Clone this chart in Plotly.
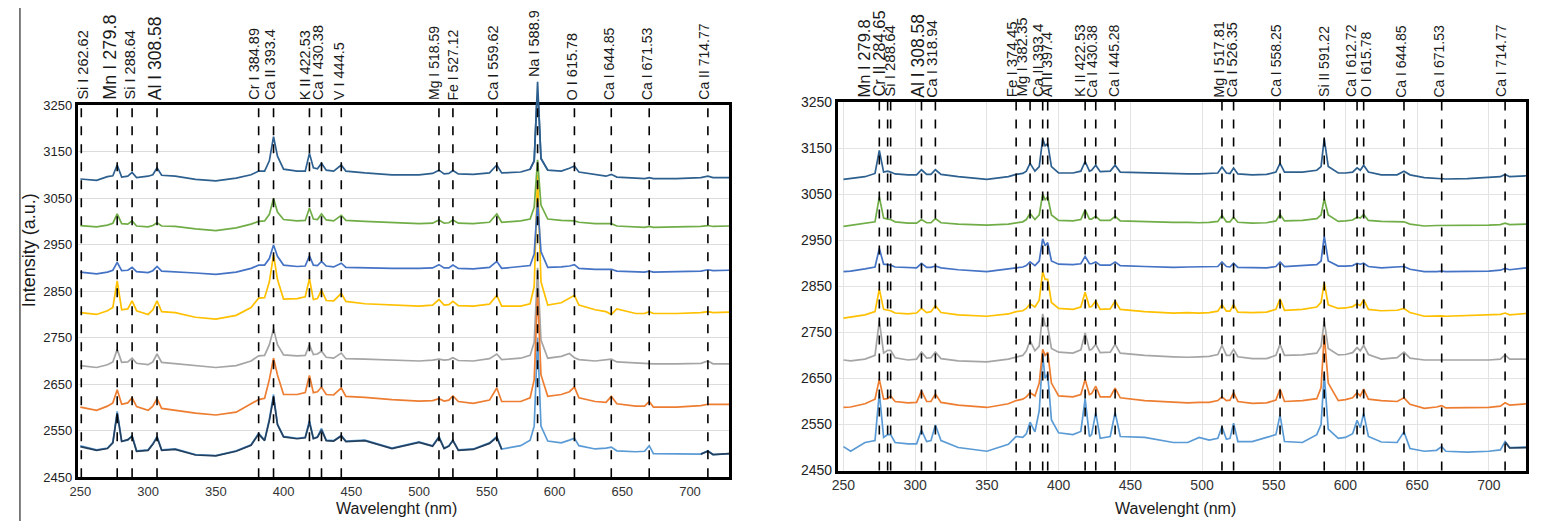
import plotly.graph_objects as go

# ---------------- data: left panel ----------------
L_X = [250, 262, 270, 274, 277.2, 280.5, 285, 288.2, 291.5, 300, 303.5, 306.6, 310, 320, 335, 350, 365, 376,
       381.6, 386, 389.5, 392.6, 395.5, 400, 410, 416, 419.1, 422, 425, 428, 431.5, 437, 442.6, 446, 460, 480,
       500, 510, 514.7, 518.5, 522, 525, 529, 540, 552, 557.4, 561, 575, 582, 585, 587.5, 590, 595, 605, 611,
       614.7, 618, 630, 638, 641.9, 646, 660, 666.5, 669.9, 673, 690, 708, 713.2, 717, 729]

L_S1 = [3091, 3088, 3096, 3098, 3121, 3095, 3097, 3105, 3094, 3097, 3100, 3115, 3099, 3097, 3090, 3087, 3093, 3100,
        3108, 3108, 3130, 3182, 3140, 3112, 3108, 3108, 3146, 3115, 3113, 3125, 3110, 3108, 3121, 3108, 3104, 3100,
        3100, 3103, 3110, 3102, 3103, 3109, 3102, 3101, 3104, 3121, 3104, 3106, 3112, 3130, 3300, 3135, 3110, 3108, 3114,
        3119, 3106, 3100, 3097, 3101, 3095, 3093, 3092, 3094, 3092, 3092, 3094, 3097, 3094, 3094]
L_S2 = [2991, 2988, 2992, 2996, 3016, 2995, 2994, 3001, 2990, 2988, 2991, 2997, 2990, 2989, 2984, 2980, 2986, 2994,
        3000, 3001, 3015, 3049, 3020, 3004, 3001, 3002, 3028, 3005, 3004, 3016, 3003, 3001, 3013, 3002, 3000, 2997,
        2995, 2996, 3003, 2996, 2997, 3003, 2996, 2995, 2998, 3016, 2998, 3001, 3005, 3030, 3132, 3035, 3005, 3002, 3002,
        3001, 2998, 2995, 2995, 2995, 2990, 2987, 2987, 2989, 2987, 2988, 2989, 2991, 2989, 2990]
L_S3 = [2891, 2887, 2891, 2895, 2912, 2894, 2895, 2901, 2892, 2890, 2894, 2903, 2893, 2892, 2889, 2886, 2891, 2899,
        2906, 2906, 2920, 2949, 2925, 2906, 2903, 2904, 2926, 2906, 2905, 2914, 2904, 2902, 2910, 2901, 2900, 2899,
        2899, 2900, 2907, 2900, 2900, 2906, 2899, 2898, 2901, 2914, 2899, 2902, 2905, 2930, 3043, 2935, 2901, 2902, 2904,
        2907, 2899, 2897, 2896, 2897, 2893, 2891, 2891, 2893, 2891, 2892, 2893, 2896, 2894, 2895]
L_S4 = [2804, 2800, 2808, 2815, 2872, 2810, 2812, 2829, 2808, 2800, 2810, 2829, 2806, 2804, 2794, 2790, 2798, 2815,
        2835, 2836, 2870, 2928, 2875, 2833, 2834, 2838, 2877, 2832, 2834, 2852, 2830, 2829, 2845, 2828, 2823, 2820,
        2818, 2820, 2832, 2820, 2821, 2828, 2819, 2818, 2822, 2841, 2818, 2818, 2823, 2860, 3100, 2870, 2820, 2825, 2835,
        2841, 2820, 2810, 2806, 2800, 2812, 2802, 2802, 2806, 2802, 2802, 2804, 2806, 2804, 2805]
L_S5 = [2690, 2686, 2692, 2698, 2725, 2697, 2698, 2706, 2695, 2692, 2698, 2715, 2697, 2694, 2691, 2686, 2690, 2700,
        2711, 2712, 2735, 2769, 2735, 2713, 2711, 2712, 2735, 2714, 2715, 2721, 2708, 2706, 2717, 2705, 2704, 2702,
        2700, 2702, 2704, 2702, 2703, 2707, 2701, 2700, 2705, 2715, 2703, 2706, 2712, 2740, 2900, 2745, 2706, 2710, 2716,
        2707, 2703, 2700, 2702, 2704, 2698, 2696, 2695, 2696, 2694, 2694, 2695, 2700, 2694, 2694]
L_S6 = [2601, 2594, 2603, 2610, 2638, 2607, 2610, 2621, 2602, 2594, 2603, 2619, 2598, 2594, 2588, 2584, 2590, 2608,
        2617, 2620, 2660, 2706, 2670, 2628, 2628, 2632, 2669, 2632, 2634, 2644, 2628, 2627, 2642, 2624, 2622, 2617,
        2614, 2615, 2619, 2614, 2616, 2625, 2613, 2609, 2616, 2642, 2613, 2613, 2621, 2660, 2850, 2670, 2624, 2628, 2634,
        2644, 2621, 2613, 2611, 2624, 2608, 2603, 2603, 2613, 2601, 2601, 2604, 2607, 2607, 2607]
L_S7 = [2518, 2509, 2513, 2525, 2592, 2528, 2530, 2540, 2507, 2509, 2522, 2538, 2509, 2511, 2499, 2497, 2507, 2520,
        2545, 2530, 2575, 2628, 2565, 2538, 2534, 2536, 2572, 2534, 2537, 2555, 2530, 2529, 2540, 2528, 2530, 2513,
        2526, 2518, 2538, 2513, 2518, 2530, 2509, 2511, 2524, 2538, 2511, 2518, 2530, 2560, 2750, 2560, 2528, 2524, 2530,
        2534, 2518, 2511, 2513, 2515, 2507, 2505, 2506, 2518, 2501, 2501, 2500, 2507, 2499, 2501]
# dark overlay of the lowest spectrum (visible parts only)
L_S8 = [2516, 2508, 2512, 2524, 2588, 2527, 2531, 2538, 2506, 2508, 2521, 2536, 2508, 2510, 2498, 2496, 2506, 2519,
        2543, 2529, 2572, 2622, 2563, 2537, 2533, 2535, 2568, 2533, 2536, 2552, 2529, 2528, 2539, 2527, 2529, 2512,
        2525, 2517, 2536, 2512, 2517, 2529, 2508, 2510, 2523, 2536, 2510, None, None, None, None, None, None, None, None,
        None, None, None, None, None, None, None, None, None, None, None, 2500, 2506, 2499, 2501]

L_LINES = [250.7, 277.2, 288.2, 306.6, 381.6, 392.6, 419.1, 428, 442.6, 514.7, 525, 557.4, 587.5, 614.7,
           641.9, 669.9, 713.2]
L_LABELS = ["Si I 262.62", "Mn I 279.8", "Si I 288.64", "Al I 308.58", "Cr I 384.89", "Ca II 393.4",
            "K II 422.53", "Ca I 430.38", "V I 444.5", "Mg I 518.59", "Fe I 527.12", "Ca I 559.62",
            "Na I 588.9", "O I 615.78", "Ca I 644.85", "Ca I 671.53", "Ca II 714.77"]

# ---------------- data: right panel ----------------
R_X = [250, 255, 265, 272, 275, 278, 280.8, 282.9, 286, 295, 301, 304.4, 308, 311, 314.1, 318, 330, 350, 365,
       370.4, 375, 377.5, 380.1, 383.5, 386.5, 388.9, 390.6, 392.4, 395, 400, 410, 415.5, 418.5, 421.5, 423,
       425.9, 429, 436, 439.4, 443, 460, 480, 490, 498, 505, 511, 513.9, 517, 519.5, 522, 525, 535, 545, 551.5,
       554.4, 557.5, 570, 580, 583, 585.2, 588, 595, 600, 605, 608.1, 610.3, 612.7, 616, 625, 636, 640.8, 645,
       655, 663.5, 667.1, 670, 685, 700, 708, 711.3, 714.5, 726]

R_S1 = [3082, 3084, 3088, 3095, 3145, 3098, 3100, 3098, 3094, 3092, 3092, 3103, 3093, 3093, 3103, 3093, 3088, 3082, 3088,
        3093, 3095, 3100, 3117, 3100, 3110, 3170, 3155, 3160, 3110, 3096, 3096, 3100, 3121, 3100, 3102,
        3113, 3099, 3100, 3113, 3098, 3096, 3095, 3094, 3094, 3095, 3096, 3109, 3096, 3095, 3107, 3094, 3092, 3093, 3098,
        3117, 3098, 3098, 3102, 3110, 3170, 3110, 3096, 3096, 3098, 3107, 3102, 3113, 3098, 3092, 3092, 3100, 3092,
        3086, 3084, 3083, 3083, 3084, 3086, 3088, 3093, 3088, 3090]
R_S2 = [2980, 2982, 2986, 2990, 3044, 2998, 2996, 2995, 2990, 2987, 2987, 2995, 2988, 2988, 2997, 2988, 2985, 2983, 2985,
        2988, 2990, 2995, 3008, 2995, 3005, 3050, 3038, 3044, 3005, 2993, 2992, 2995, 3016, 2996, 2996,
        3002, 2993, 2993, 3002, 2992, 2990, 2989, 2989, 2988, 2989, 2991, 3004, 2990, 2990, 3000, 2989, 2987, 2988, 2992,
        3006, 2992, 2993, 2997, 3005, 3040, 3005, 2991, 2992, 2994, 3000, 2998, 3006, 2993, 2991, 2990, 2990, 2985,
        2981, 2982, 2982, 2982, 2983, 2983, 2984, 2987, 2984, 2985]
R_S3 = [2882, 2883, 2888, 2892, 2932, 2898, 2897, 2896, 2892, 2890, 2890, 2900, 2891, 2891, 2894, 2890, 2886, 2882, 2887,
        2890, 2892, 2895, 2903, 2895, 2905, 2953, 2938, 2945, 2905, 2898, 2897, 2899, 2915, 2899, 2899,
        2903, 2896, 2896, 2903, 2895, 2893, 2891, 2892, 2892, 2892, 2893, 2903, 2893, 2892, 2900, 2891, 2890, 2890, 2893,
        2903, 2893, 2895, 2897, 2905, 2959, 2905, 2894, 2894, 2895, 2900, 2898, 2900, 2893, 2890, 2891, 2893, 2887,
        2882, 2882, 2883, 2882, 2882, 2883, 2885, 2889, 2886, 2890]
R_S4 = [2781, 2783, 2788, 2795, 2844, 2800, 2798, 2797, 2792, 2790, 2792, 2802, 2793, 2795, 2808, 2793, 2788, 2785, 2790,
        2795, 2797, 2802, 2812, 2805, 2820, 2882, 2865, 2865, 2815, 2802, 2800, 2805, 2837, 2805, 2806,
        2818, 2800, 2801, 2818, 2800, 2795, 2792, 2793, 2792, 2793, 2796, 2810, 2796, 2796, 2810, 2794, 2793, 2794, 2800,
        2823, 2798, 2800, 2805, 2815, 2858, 2810, 2802, 2803, 2806, 2812, 2808, 2821, 2800, 2797, 2798, 2802, 2793,
        2785, 2786, 2786, 2785, 2786, 2787, 2789, 2792, 2788, 2791]
R_S5 = [2690, 2688, 2692, 2700, 2775, 2705, 2711, 2711, 2695, 2690, 2692, 2707, 2694, 2695, 2707, 2693, 2688, 2686, 2692,
        2696, 2700, 2710, 2732, 2710, 2720, 2790, 2765, 2762, 2715, 2707, 2705, 2712, 2749, 2712, 2713,
        2724, 2706, 2707, 2724, 2705, 2700, 2697, 2696, 2697, 2698, 2702, 2722, 2700, 2700, 2713, 2697, 2693, 2693, 2700,
        2724, 2700, 2701, 2705, 2720, 2775, 2715, 2701, 2702, 2706, 2717, 2710, 2722, 2702, 2692, 2695, 2707, 2694,
        2690, 2690, 2690, 2690, 2690, 2690, 2692, 2701, 2692, 2692]
R_S6 = [2587, 2588, 2595, 2605, 2648, 2605, 2606, 2612, 2600, 2597, 2598, 2623, 2600, 2600, 2616, 2598, 2592, 2587, 2595,
        2602, 2605, 2610, 2619, 2612, 2640, 2713, 2700, 2707, 2640, 2612, 2610, 2615, 2648, 2615, 2617,
        2633, 2610, 2610, 2629, 2608, 2602, 2598, 2597, 2598, 2598, 2602, 2610, 2602, 2603, 2619, 2600, 2596, 2597, 2603,
        2627, 2600, 2602, 2606, 2630, 2745, 2640, 2602, 2604, 2608, 2619, 2612, 2627, 2605, 2602, 2600, 2608, 2594,
        2585, 2588, 2591, 2586, 2587, 2587, 2590, 2597, 2592, 2595]
R_S7 = [2502, 2492, 2511, 2515, 2619, 2522, 2528, 2528, 2511, 2508, 2508, 2538, 2513, 2515, 2549, 2515, 2500, 2492, 2507,
        2524, 2522, 2530, 2555, 2534, 2580, 2700, 2650, 2660, 2560, 2532, 2528, 2535, 2606, 2524, 2528,
        2576, 2520, 2524, 2576, 2524, 2522, 2511, 2511, 2522, 2516, 2520, 2545, 2518, 2520, 2553, 2513, 2513, 2522, 2528,
        2570, 2513, 2511, 2528, 2550, 2660, 2540, 2520, 2522, 2530, 2559, 2543, 2574, 2524, 2512, 2511, 2534, 2498,
        2492, 2494, 2502, 2492, 2490, 2492, 2495, 2513, 2500, 2501]
R_S8 = [None] * 79 + [2512, 2499, 2500]

R_LINES = [275, 280.8, 282.9, 304.4, 314.1, 370.4, 380.1, 388.9, 392.4, 418.5, 425.9, 439.4, 513.9, 522,
           554.4, 585.2, 608.1, 612.7, 640.8, 667.1, 711.3]
R_LABELS = ["Mn I 279.8", "Cr II 284.65", "Si I 288.64", "Al I 308.58", "Ca I 318.94", "Fe I 374.45",
            "Mg I 382.35", "Ca II 393.4", "Al II 397.4", "K II 422.53", "Ca I 430.38", "Ca I 445.28",
            "Mg I 517.81", "Ca I 526.35", "Ca I 558.25", "Si II 591.22", "Ca I 612.72", "O I 615.78",
            "Ca I 644.85", "Ca I 671.53", "Ca I 714.77"]

X_TICKS = [250, 300, 350, 400, 450, 500, 550, 600, 650, 700]
Y_TICKS = [2450, 2550, 2650, 2750, 2850, 2950, 3050, 3150, 3250]

# ---------------- styling / layout ----------------
W, H = 1560, 529
COLORS = {"s1": "#2D5F8F", "s2": "#70AD47", "s3": "#4472C4", "s4": "#FFC000",
          "s5": "#A5A5A5", "s6": "#ED7D31", "s7": "#5B9BD5", "s8": "#24405F"}

L_SHIFT = [2, -7, -2, -2, -5, -4, -5, -3, -2, -5, 0, -3, -4, -2, -2, -2, -4]
L_SIZE = [14.5, 18, 14.5, 17.5, 14.5, 14.5, 14.5, 14.5, 14.5, 14, 14, 14.5, 14.5, 14.5, 14, 14, 14]
L_GAP = [5, 5, 5, 5, 5, 5, 5, 5, 5, 5, 5, 5, 28, 5, 5, 5, 5]
R_SHIFT = [-15, -9, -1, -3, -4, -5, -9, -5, 0, -5, -4, -1, -3, -2, -4, -1, -6, 3, -3, -3, -4]
R_SIZE = [16.5, 16.5, 15, 17.5, 15, 15, 15, 15, 14.5, 15, 14, 14, 14.5, 14.5, 14, 14, 14, 14, 14, 14, 14]

# approximate Arial advance widths (em) to centre the rotated labels above the frame
CHAR_W = {"S": .667, "i": .222, "I": .278, " ": .278, ".": .278, "M": .833, "n": .556, "A": .667,
          "l": .222, "C": .722, "a": .556, "r": .333, "K": .667, "V": .667, "g": .556, "F": .611,
          "e": .556, "N": .722, "O": .778}

def text_len(txt, size):
    return size * sum(CHAR_W.get(c, .556) for c in txt)

def fx(p):
    return p / W

def fy(p):
    return 1 - p / H

L_DOM_X = [fx(70), fx(725)]
L_DOM_Y = [fy(484), fy(100)]
R_DOM_X = [fx(834), fx(1526)]
R_DOM_Y = [fy(477), fy(97)]
# taller invisible twin of the left panel so the Na peak can rise above the frame
OV_TOP_PX = 55
OV_DOM_Y = [fy(484), fy(OV_TOP_PX)]
OV_RANGE = [2450, 2450 + (484 - OV_TOP_PX) * 800 / (484 - 100)]

fig = go.Figure()

def add_panel(xs, series, xa, ya):
    order = ["s7", "s8", "s5", "s6", "s4", "s3", "s2", "s1"]
    for key in order:
        fig.add_trace(go.Scatter(
            x=xs, y=series[key], mode="lines", xaxis=xa, yaxis=ya,
            line=dict(color=COLORS[key], width=1.7),
            connectgaps=False, showlegend=False, hoverinfo="skip",
        ))

add_panel(L_X, {"s1": L_S1, "s2": L_S2, "s3": L_S3, "s4": L_S4, "s5": L_S5,
                "s6": L_S6, "s7": L_S7, "s8": L_S8}, "x", "y")
add_panel(R_X, {"s1": R_S1, "s2": R_S2, "s3": R_S3, "s4": R_S4, "s5": R_S5,
                "s6": R_S6, "s7": R_S7, "s8": R_S8}, "x2", "y2")

# Na peak of the top spectrum, drawn on the taller twin axes (same scale)
na_i = L_X.index(587.5)
fig.add_trace(go.Scatter(x=L_X[na_i - 2:na_i + 3], y=L_S1[na_i - 2:na_i + 3], mode="lines",
                         xaxis="x3", yaxis="y3", line=dict(color=COLORS["s1"], width=1.7),
                         showlegend=False, hoverinfo="skip"))

shapes = []
for xv in L_LINES:
    shapes.append(dict(type="line", xref="x", yref="y domain", x0=xv, x1=xv, y0=0, y1=1,
                       line=dict(color="black", width=1.6, dash="dash"), layer="above"))
for xv in R_LINES:
    shapes.append(dict(type="line", xref="x2", yref="y2 domain", x0=xv, x1=xv, y0=0, y1=1,
                       line=dict(color="black", width=1.6, dash="dash"), layer="above"))
shapes.append(dict(type="line", xref="paper", yref="paper", x0=fx(12), x1=fx(12), y0=0, y1=1,
                   line=dict(color="#555555", width=1.5)))

LABEL_FONT = "Liberation Sans, Arial, sans-serif"
annotations = []
for xv, txt, sh, sz, gap in zip(L_LINES, L_LABELS, L_SHIFT, L_SIZE, L_GAP):
    annotations.append(dict(x=xv, y=L_DOM_Y[1], xref="x", yref="paper", text=txt, showarrow=False,
                            textangle=-90, xanchor="center", yanchor="middle", xshift=sh,
                            yshift=gap + text_len(txt, sz) / 2,
                            font=dict(family=LABEL_FONT, size=sz, color="#1a1a1a")))
for xv, txt, sh, sz in zip(R_LINES, R_LABELS, R_SHIFT, R_SIZE):
    annotations.append(dict(x=xv, y=R_DOM_Y[1], xref="x2", yref="paper", text=txt, showarrow=False,
                            textangle=-90, xanchor="center", yanchor="middle", xshift=sh,
                            yshift=5 + text_len(txt, sz) / 2,
                            font=dict(family=LABEL_FONT, size=sz, color="#1a1a1a")))

NARROW = "Liberation Sans Narrow, Arial Narrow, Liberation Sans, sans-serif"
annotations.append(dict(x=fx(391), y=fy(516), xref="paper", yref="paper", text="Wavelenght (nm)",
                        showarrow=False, xanchor="center", yanchor="middle",
                        font=dict(family=NARROW, size=16, color="#1a1a1a")))
annotations.append(dict(x=fx(1174), y=fy(516), xref="paper", yref="paper", text="Wavelenght (nm)",
                        showarrow=False, xanchor="center", yanchor="middle",
                        font=dict(family=NARROW, size=16, color="#1a1a1a")))
annotations.append(dict(x=fx(22), y=fy(250), xref="paper", yref="paper", text="Intensity (a.u.)",
                        showarrow=False, textangle=-90, xanchor="center", yanchor="middle",
                        font=dict(family=NARROW, size=18, color="#1a1a1a")))

axis_common = dict(showline=True, mirror=True, linecolor="black", linewidth=2.5, ticks="",
                   zeroline=False)

fig.update_layout(
    width=W, height=H, margin=dict(l=0, r=0, t=0, b=0),
    paper_bgcolor="white", plot_bgcolor="rgba(0,0,0,0)",
    xaxis=dict(domain=L_DOM_X, range=[248, 729], tickvals=X_TICKS, showgrid=False, anchor="y",
               tickfont=dict(family=NARROW, size=13, color="#333333"), **axis_common),
    yaxis=dict(domain=L_DOM_Y, range=[2450, 3250], tickvals=Y_TICKS, showgrid=True,
               gridcolor="#DCDCDC", gridwidth=1, anchor="x",
               tickfont=dict(family=NARROW, size=13, color="#222222"), **axis_common),
    xaxis2=dict(domain=R_DOM_X, range=[246, 726], tickvals=X_TICKS, showgrid=True,
                gridcolor="#E3E3E3", gridwidth=1, anchor="y2",
                tickfont=dict(family=LABEL_FONT, size=14, color="#333333"), **axis_common),
    yaxis2=dict(domain=R_DOM_Y, range=[2450, 3250], tickvals=Y_TICKS, showgrid=True,
                gridcolor="#E3E3E3", gridwidth=1, anchor="x2",
                tickfont=dict(family=LABEL_FONT, size=14, color="#222222"), **axis_common),
    xaxis3=dict(domain=L_DOM_X, range=[248, 729], visible=False, anchor="y3"),
    yaxis3=dict(domain=OV_DOM_Y, range=OV_RANGE, visible=False, anchor="x3"),
    shapes=shapes, annotations=annotations,
)

# the page's default body margin would offset the figure; remove it
fig.write_html("out.html", config={"displayModeBar": False},
               post_script="document.body.style.margin='0px';")
